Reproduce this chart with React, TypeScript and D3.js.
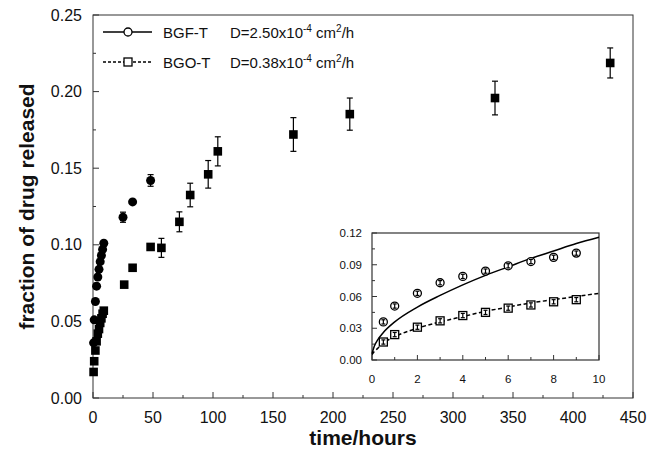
import React from "react";
import * as d3 from "d3";

// ---- data ----
const earlyHours = [0.5, 1, 2, 3, 4, 5, 6, 7, 8, 9];
const bgfEarly = [0.036, 0.051, 0.063, 0.073, 0.079, 0.084, 0.089, 0.093, 0.097, 0.101];
const bgoEarly = [0.017, 0.024, 0.031, 0.037, 0.042, 0.045, 0.049, 0.052, 0.055, 0.057];
const earlyErr = [0.002, 0.002, 0.002, 0.002, 0.002, 0.002, 0.002, 0.002, 0.002, 0.002];

const bgfLateHours = [25, 33, 48];
const bgfLate = [0.118, 0.128, 0.142];
const bgfLateErr = [0.0033, 0.0022, 0.0038];

const bgoLateHours = [26, 33, 48, 57, 72, 81, 96, 104, 167, 214, 335, 431];
const bgoLate = [0.074, 0.085, 0.0986, 0.098, 0.115, 0.1325, 0.146, 0.161, 0.172, 0.1853, 0.1958, 0.2187];
const bgoLateErr = [0, 0, 0, 0.0062, 0.0065, 0.0077, 0.009, 0.0095, 0.011, 0.0105, 0.011, 0.0098];

const fitHours = [0, 0.1, 0.25, 0.5, 1, 2, 3, 4, 5, 6, 7, 8, 9, 10];
const bgfFit = [0.006, 0.013, 0.019, 0.026, 0.036, 0.05, 0.061, 0.071, 0.08, 0.088, 0.096, 0.103, 0.11, 0.116];
const bgoFit = [0.005, 0.008, 0.011, 0.016, 0.022, 0.03, 0.036, 0.041, 0.046, 0.05, 0.054, 0.057, 0.06, 0.063];

const mainXTicks = [0, 50, 100, 150, 200, 250, 300, 350, 400, 450];
const mainXMinor = [25, 75, 125, 175, 225, 275, 325, 375, 425];
const mainYTicks = [0, 0.05, 0.1, 0.15, 0.2, 0.25];
const mainYMinor = [0.025, 0.075, 0.125, 0.175, 0.225];
const insetXTicks = [0, 2, 4, 6, 8, 10];
const insetXMinor = [1, 3, 5, 7, 9];
const insetYTicks = [0, 0.03, 0.06, 0.09, 0.12];
const insetYMinor = [0.015, 0.045, 0.075, 0.105];

const legendNames = ["BGF-T", "BGO-T"];
const legendD = ["2.50", "0.38"];

const FONT = "'Liberation Sans', Arial, Helvetica, sans-serif";
const FRAME = "#333";

export default function App() {
  const x = d3.scaleLinear().domain([0, 450]).range([93, 633]);
  const y = d3.scaleLinear().domain([0, 0.25]).range([398, 15]);
  const xi = d3.scaleLinear().domain([0, 10]).range([372, 599]);
  const yi = d3.scaleLinear().domain([0, 0.12]).range([360, 233]);

  const lineI = d3
    .line<number>()
    .x((_, i) => xi(fitHours[i]))
    .y((v) => yi(v))
    .curve(d3.curveMonotoneX);

  const errBar = (cx: number, y0: number, y1: number, key: string, cap = 3) => (
    <g key={key} stroke="#000" strokeWidth={1.2}>
      <line x1={cx} x2={cx} y1={y0} y2={y1} />
      <line x1={cx - cap} x2={cx + cap} y1={y0} y2={y0} />
      <line x1={cx - cap} x2={cx + cap} y1={y1} y2={y1} />
    </g>
  );

  const mainHours = [...earlyHours, ...bgfLateHours];
  const mainBgf = [...bgfEarly, ...bgfLate];
  const mainBgfErr = [...earlyErr, ...bgfLateErr];
  const mainBgoHours = [...earlyHours, ...bgoLateHours];
  const mainBgo = [...bgoEarly, ...bgoLate];
  const mainBgoErr = [...earlyErr, ...bgoLateErr];

  return (
    <svg
      width={662}
      height={456}
      style={{ position: "absolute", left: 0, top: 0, background: "#fff" }}
      fontFamily={FONT}
    >
      <rect x={0} y={0} width={662} height={456} fill="#fff" />
      {/* main frame */}
      <rect x={93} y={15} width={540} height={383} fill="none" stroke={FRAME} strokeWidth={1} />
      {/* main ticks */}
      {mainXTicks.map((t) => (
        <g key={"mx" + t}>
          <line x1={x(t)} x2={x(t)} y1={398} y2={392} stroke={FRAME} />
          <text x={x(t)} y={423} fontSize={16} textAnchor="middle" fill="#111">
            {t}
          </text>
        </g>
      ))}
      {mainXMinor.map((t) => (
        <line key={"mxm" + t} x1={x(t)} x2={x(t)} y1={398} y2={395} stroke={FRAME} />
      ))}
      {mainYTicks.map((t) => (
        <g key={"my" + t}>
          <line x1={93} x2={99} y1={y(t)} y2={y(t)} stroke={FRAME} />
          <text x={82} y={y(t)} dy="0.35em" fontSize={16} textAnchor="end" fill="#111">
            {t.toFixed(2)}
          </text>
        </g>
      ))}
      {mainYMinor.map((t) => (
        <line key={"mym" + t} x1={93} x2={96} y1={y(t)} y2={y(t)} stroke={FRAME} />
      ))}
      <text x={363} y={445} fontSize={21} fontWeight="bold" textAnchor="middle" fill="#111">
        time/hours
      </text>
      <text
        transform="translate(34,206.5) rotate(-90)"
        fontSize={21}
        fontWeight="bold"
        textAnchor="middle"
        fill="#111"
      >
        fraction of drug released
      </text>

      {/* main data: BGO-T squares */}
      {mainBgoHours.map((h, i) =>
        mainBgoErr[i] > 0.004 ? errBar(x(h), y(mainBgo[i] + mainBgoErr[i]), y(mainBgo[i] - mainBgoErr[i]), "eo" + i) : null
      )}
      {mainBgoHours.map((h, i) => (
        <rect key={"so" + i} x={x(h) - 4.3} y={y(mainBgo[i]) - 4.3} width={8.6} height={8.6} fill="#000" />
      ))}
      {/* main data: BGF-T circles */}
      {mainHours.map((h, i) =>
        mainBgfErr[i] > 0.0025 ? errBar(x(h), y(mainBgf[i] + mainBgfErr[i]), y(mainBgf[i] - mainBgfErr[i]), "ef" + i) : null
      )}
      {mainHours.map((h, i) => (
        <circle key={"cf" + i} cx={x(h)} cy={y(mainBgf[i])} r={4.5} fill="#000" />
      ))}

      {/* legend */}
      {legendNames.map((name, i) => {
        const ly = 32 + i * 30;
        return (
          <g key={"lg" + i}>
            <line
              x1={103}
              x2={152}
              y1={ly}
              y2={ly}
              stroke="#000"
              strokeWidth={1.3}
              strokeDasharray={i === 1 ? "3,2" : undefined}
            />
            {i === 0 ? (
              <circle cx={128} cy={ly} r={4} fill="#fff" stroke="#000" strokeWidth={1.3} />
            ) : (
              <rect x={124} y={ly - 4} width={8} height={8} fill="#fff" stroke="#000" strokeWidth={1.3} />
            )}
            <text x={163} y={ly + 5.5} fontSize={15} fill="#111">
              {name}
            </text>
            <text x={230} y={ly + 5.5} fontSize={15} fill="#111">
              {"D=" + legendD[i] + "x10"}
              <tspan fontSize={10} dy={-6}>
                -4
              </tspan>
              <tspan dy={6}>{" cm"}</tspan>
              <tspan fontSize={10} dy={-6}>
                2
              </tspan>
              <tspan dy={6}>/h</tspan>
            </text>
          </g>
        );
      })}

      {/* inset */}
      <rect x={372} y={233} width={227} height={127} fill="#fff" stroke={FRAME} strokeWidth={1.2} />
      {insetXTicks.map((t) => (
        <g key={"ix" + t}>
          <line x1={xi(t)} x2={xi(t)} y1={360} y2={355} stroke={FRAME} />
          <text x={xi(t)} y={383} fontSize={11.5} textAnchor="middle" fill="#111">
            {t}
          </text>
        </g>
      ))}
      {insetXMinor.map((t) => (
        <line key={"ixm" + t} x1={xi(t)} x2={xi(t)} y1={360} y2={357} stroke={FRAME} />
      ))}
      {insetYTicks.map((t) => (
        <g key={"iy" + t}>
          <line x1={372} x2={377} y1={yi(t)} y2={yi(t)} stroke={FRAME} />
          <text x={362} y={yi(t)} dy="0.35em" fontSize={11.5} textAnchor="end" fill="#111">
            {t.toFixed(2)}
          </text>
        </g>
      ))}
      {insetYMinor.map((t) => (
        <line key={"iym" + t} x1={372} x2={375} y1={yi(t)} y2={yi(t)} stroke={FRAME} />
      ))}
      <path d={lineI(bgfFit) || ""} fill="none" stroke="#000" strokeWidth={1.5} />
      <path d={lineI(bgoFit) || ""} fill="none" stroke="#000" strokeWidth={1.5} strokeDasharray="4,2.5" />
      {earlyHours.map((h, i) => (
        <g key={"ic" + i}>
          <circle cx={xi(h)} cy={yi(bgfEarly[i])} r={4} fill="#fff" stroke="#000" strokeWidth={1.3} />
          {errBar(xi(h), yi(bgfEarly[i] + earlyErr[i]), yi(bgfEarly[i] - earlyErr[i]), "iec" + i, 2)}
        </g>
      ))}
      {earlyHours.map((h, i) => (
        <g key={"is" + i}>
          <rect x={xi(h) - 4} y={yi(bgoEarly[i]) - 4} width={8} height={8} fill="#fff" stroke="#000" strokeWidth={1.3} />
          {errBar(xi(h), yi(bgoEarly[i] + earlyErr[i]), yi(bgoEarly[i] - earlyErr[i]), "ies" + i, 2)}
        </g>
      ))}
    </svg>
  );
}
